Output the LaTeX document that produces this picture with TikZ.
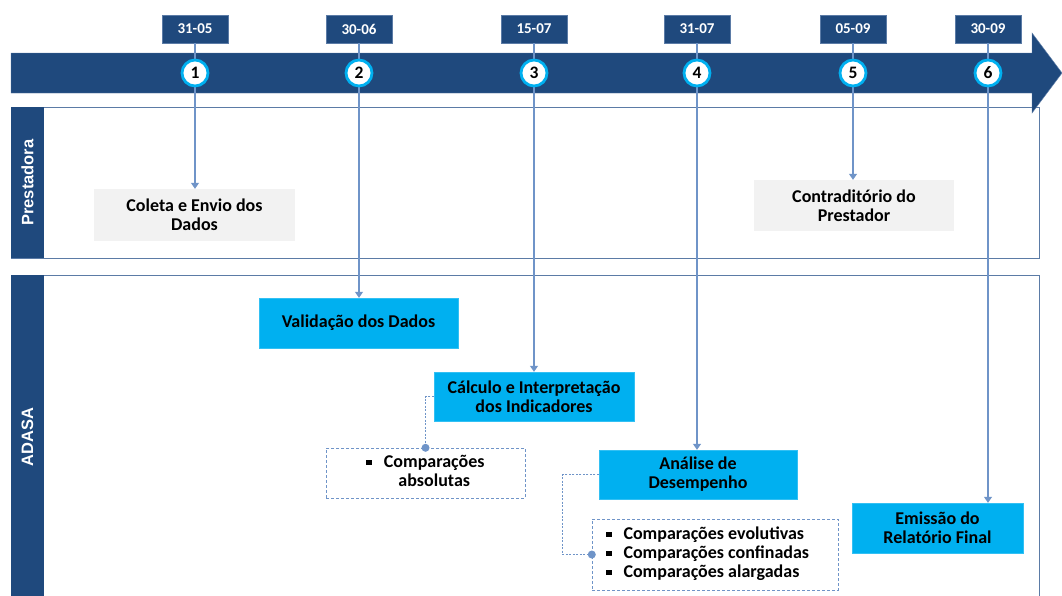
\documentclass[tikz,border=0pt]{standalone}
\usepackage{fontspec}
\setmainfont{Carlito}
\newfontfamily\lanefont{Liberation Sans}
\usetikzlibrary{arrows.meta}

\definecolor{navy}{HTML}{1F497D}
\definecolor{edgeblue}{HTML}{5B7BA6}
\definecolor{lineblue}{HTML}{6F94C8}
\definecolor{boxcyan}{HTML}{00B0F0}
\definecolor{boxgray}{HTML}{F2F2F2}

\newcommand{\bul}{\rule[2pt]{5.5pt}{5.5pt}}

\begin{document}
\begin{tikzpicture}[x=1pt,y=-1pt,
  every node/.style={font=\bfseries\fontsize{18}{19}\selectfont},
  datebox/.style={fill=navy,draw=edgeblue,text=white,inner sep=0pt,
    minimum width=66pt,minimum height=28pt,font=\bfseries\fontsize{15}{18}\selectfont},
  numcirc/.style={circle,fill=white,draw=boxcyan,line width=2.8pt,inner sep=0pt,
    minimum size=26pt,font=\bfseries\fontsize{17.5}{18}\selectfont},
  graybox/.style={fill=boxgray,align=center,inner sep=2pt},
  cyanbox/.style={fill=boxcyan,draw=boxcyan!80!white,align=center,inner sep=2pt},
  notebox/.style={draw=lineblue,dashed,dash pattern=on 3pt off 2pt,inner sep=2pt},
  lanelabel/.style={text=white,rotate=90,font=\lanefont\bfseries\fontsize{16.5}{18}\selectfont},
  link/.style={draw=lineblue,line width=1.1pt,-{Triangle[length=6pt,width=8pt]}},
  sidelink/.style={draw=lineblue,line width=0.9pt,dashed,dash pattern=on 2pt off 1.5pt}]

\useasboundingbox (0,0) rectangle (1062,595);

% Lanes
\draw[edgeblue,fill=white] (11,107) rectangle (1039,258);
\fill[navy] (11,107) rectangle (44,258);
\node[lanelabel] (prestLabel) at (27.5,182.5) {Prestadora};
\draw[edgeblue,fill=white] (11,275) rectangle (1039,600);
\fill[navy] (11,275) rectangle (44,600);
\node[lanelabel] (adasaLabel) at (27.5,437) {ADASA};

% Timeline band
\draw[edgeblue,fill=navy] (11,53) -- (1032,53) -- (1032,33) -- (1062,73)
  -- (1032,113) -- (1032,93) -- (11,93) -- cycle;

% Dates
\node[datebox] (date1) at (195,29) {31-05};
\node[datebox] (date2) at (359,29) {30-06};
\node[datebox] (date3) at (534,29) {15-07};
\node[datebox] (date4) at (697,29) {31-07};
\node[datebox] (date5) at (853,29) {05-09};
\node[datebox] (date6) at (988,29) {30-09};

% Prestadora steps
\node[graybox,minimum width=201pt,minimum height=52pt] (coleta) at (194.5,215)
  {Coleta e Envio dos\\Dados};
\node[graybox,minimum width=200pt,minimum height=51pt] (contra) at (854,205.5)
  {Contraditório do\\Prestador};

% ADASA steps
\node[cyanbox,minimum width=199pt,minimum height=50pt] (valid) at (358.5,323)
  {Validação dos Dados};
\node[cyanbox,minimum width=200pt,minimum height=49pt] (calculo) at (534,396.5)
  {Cálculo e Interpretação\\dos Indicadores};
\node[cyanbox,minimum width=198pt,minimum height=49pt] (analise) at (698,474.5)
  {Análise de\\Desempenho};
\node[cyanbox,minimum width=171pt,minimum height=50pt] (emissao) at (937.5,528)
  {Emissão do\\Relatório Final};

% Notes
\node[notebox,minimum width=199pt,minimum height=50pt] (absol) at (425.5,473)
  {\begin{tabular}{@{}c@{\hspace{12pt}}c@{}}\bul & Comparações\\ & absolutas\end{tabular}};
\node[notebox,text width=218pt,inner xsep=14pt,align=flush left,minimum height=71pt] (lista) at (715,554.5)
  {\begin{tabular}{@{}l@{\hspace{12pt}}l@{}}
    \bul & Comparações evolutivas\\
    \bul & Comparações confinadas\\
    \bul & Comparações alargadas
  \end{tabular}};

% Connectors
\draw[link] (date1.south) -- (date1 |- coleta.north);
\draw[link] (date2.south) -- (date2 |- valid.north);
\draw[link] (date3.south) -- (date3 |- calculo.north);
\draw[link] (date4.south) -- (date4 |- analise.north);
\draw[link] (date5.south) -- (date5 |- contra.north);
\draw[link] (date6.south) -- (date6 |- emissao.north);

\draw[sidelink] (calculo.west) -| (absol.north);
\fill[lineblue] (absol.north) circle (4pt);
\draw[sidelink] (analise.west) -- ++(-36,0) |- (lista.west);
\fill[lineblue] (lista.west) circle (4pt);

% Numbers
\node[numcirc] (num1) at (date1 |- 0,73) {1};
\node[numcirc] (num2) at (date2 |- 0,73) {2};
\node[numcirc] (num3) at (date3 |- 0,73) {3};
\node[numcirc] (num4) at (date4 |- 0,73) {4};
\node[numcirc] (num5) at (date5 |- 0,73) {5};
\node[numcirc] (num6) at (date6 |- 0,73) {6};

\end{tikzpicture}
\end{document}
